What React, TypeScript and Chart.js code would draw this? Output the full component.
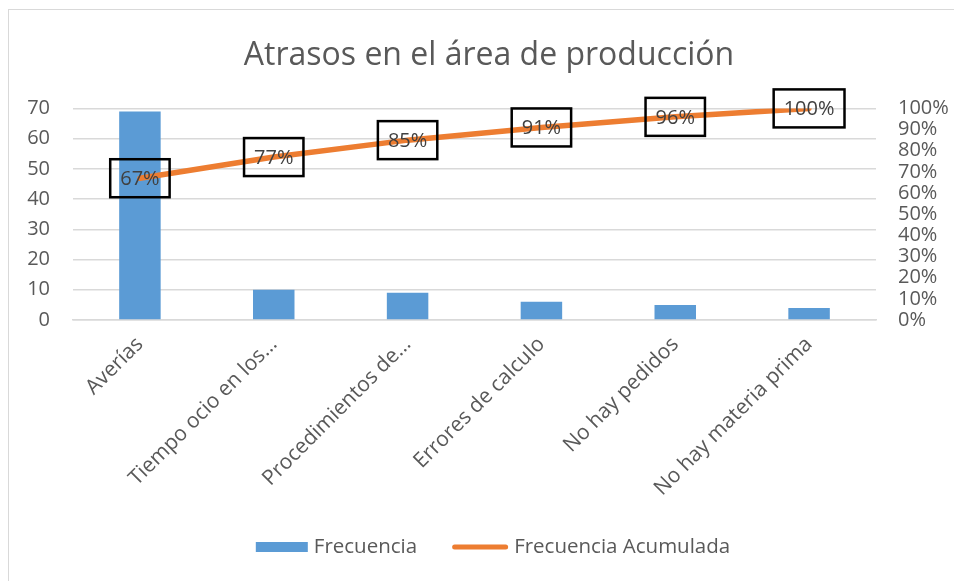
import React, { useEffect, useRef } from "react";
import { Chart, registerables } from "chart.js";

Chart.register(...registerables);

const FONT = "'Open Sans', sans-serif";
const TEXT = "#595959";
const BAR_COLOR = "#5B9BD5";
const LINE_COLOR = "#ED7D31";

const categories = [
  "Averías",
  "Tiempo ocio en los…",
  "Procedimientos de…",
  "Errores de calculo",
  "No hay pedidos",
  "No hay materia prima",
];
const frecuencia = [69, 10, 9, 6, 5, 4];
const acumulada = [0.67, 0.77, 0.85, 0.91, 0.96, 1.0];
const leftTicks = [0, 10, 20, 30, 40, 50, 60, 70];
const seriesNames = ["Frecuencia", "Frecuencia Acumulada"];

const labelBoxes = {
  id: "labelBoxes",
  afterDatasetsDraw(chart: any) {
    const meta = chart.getDatasetMeta(1);
    const ctx = chart.ctx;
    ctx.save();
    ctx.font = `20px ${FONT}`;
    ctx.textAlign = "center";
    ctx.textBaseline = "middle";
    meta.data.forEach((pt: any, i: number) => {
      const txt = Math.round(acumulada[i] * 100) + "%";
      const w = ctx.measureText(txt).width + 20;
      const h = 38;
      ctx.fillStyle = "#404040";
      ctx.fillText(txt, pt.x, pt.y + 1);
      ctx.lineWidth = 2.5;
      ctx.strokeStyle = "#000000";
      ctx.strokeRect(pt.x - w / 2, pt.y - h / 2, w, h);
    });
    ctx.restore();
  },
};

const customLegend = {
  id: "customLegend",
  afterDraw(chart: any) {
    const ctx = chart.ctx;
    ctx.save();
    ctx.font = `20.5px ${FONT}`;
    ctx.textBaseline = "middle";
    ctx.textAlign = "left";
    const t1 = ctx.measureText(seriesNames[0]).width;
    const t2 = ctx.measureText(seriesNames[1]).width;
    const boxW = 52;
    const lineW = 56;
    const gap = 6;
    const itemGap = 35;
    const total = boxW + gap + t1 + itemGap + lineW + gap + t2;
    const cx = (chart.width + 24) / 2 + 4;
    const y = 547;
    let x = cx - total / 2;
    ctx.fillStyle = BAR_COLOR;
    ctx.fillRect(x, y - 5, boxW, 10);
    x += boxW + gap;
    ctx.fillStyle = TEXT;
    ctx.fillText(seriesNames[0], x, y);
    x += t1 + itemGap;
    ctx.strokeStyle = LINE_COLOR;
    ctx.lineWidth = 5;
    ctx.lineCap = "round";
    ctx.beginPath();
    ctx.moveTo(x + 2.5, y);
    ctx.lineTo(x + lineW - 2.5, y);
    ctx.stroke();
    x += lineW + gap;
    ctx.fillStyle = TEXT;
    ctx.fillText(seriesNames[1], x, y);
    ctx.restore();
  },
};

export default function App() {
  const ref = useRef<HTMLCanvasElement | null>(null);
  useEffect(() => {
    if (!ref.current) return;
    const chart = new Chart(ref.current, {
      type: "bar",
      data: {
        labels: categories,
        datasets: [
          {
            type: "bar",
            label: seriesNames[0],
            data: frecuencia,
            backgroundColor: BAR_COLOR,
            categoryPercentage: 1,
            barPercentage: 0.31,
            yAxisID: "y",
            order: 1,
          },
          {
            type: "line",
            label: seriesNames[1],
            data: acumulada,
            borderColor: LINE_COLOR,
            backgroundColor: LINE_COLOR,
            borderWidth: 5.5,
            pointRadius: 0,
            borderCapStyle: "round",
            tension: 0,
            yAxisID: "y1",
            order: 0,
          },
        ],
      } as any,
      options: {
        animation: false,
        responsive: false,
        maintainAspectRatio: false,
        layout: { padding: { left: 24, right: 0, top: 0, bottom: 56 } },
        plugins: {
          tooltip: { enabled: false },
          legend: { display: false },
          title: {
            display: true,
            text: "Atrasos en el área de producción",
            color: TEXT,
            font: { family: FONT, size: 32, weight: "normal" },
            padding: { top: 37, bottom: 33 },
          },
        },
        scales: {
          x: {
            offset: true,
            grid: { display: false, drawTicks: false },
            border: { color: "#d9d9d9", width: 1.5 },
            ticks: {
              color: TEXT,
              font: { family: FONT, size: 21 },
              minRotation: 45,
              maxRotation: 45,
              autoSkip: false,
              padding: 12,
            },
            afterFit: (s: any) => {
              s.height = 205;
              s.paddingLeft = 0;
              s.paddingRight = 0;
            },
          },
          y: {
            position: "left",
            min: 0,
            max: 70,
            afterBuildTicks: (s: any) => {
              s.ticks = leftTicks.map((v) => ({ value: v }));
            },
            grid: { color: "#d9d9d9", lineWidth: 1.5, drawTicks: false },
            border: { display: false },
            ticks: {
              color: TEXT,
              font: { family: FONT, size: 20 },
              padding: 23,
              autoSkip: false,
            },
            afterFit: (s: any) => {
              s.width = 49;
            },
          },
          y1: {
            position: "right",
            min: 0,
            max: 1,
            grid: { display: false, drawTicks: false },
            border: { display: false },
            ticks: {
              stepSize: 0.1,
              autoSkip: false,
              color: TEXT,
              font: { family: FONT, size: 20 },
              padding: 22,
              callback: (v: any) => Math.round(Number(v) * 100) + "%",
            },
            afterFit: (s: any) => {
              s.width = 78;
            },
          },
        },
      } as any,
      plugins: [labelBoxes, customLegend],
    });
    return () => chart.destroy();
  }, []);

  return (
    <div style={{ position: "fixed", left: 0, top: 0, width: 954, height: 581, background: "#fff", overflow: "hidden" }}>
      <div
        style={{
          position: "absolute",
          left: 8,
          top: 9,
          width: 1000,
          height: 700,
          borderLeft: "1.5px solid #d9d9d9",
          borderTop: "1.5px solid #d9d9d9",
        }}
      />
      <canvas ref={ref} width={954} height={581} style={{ position: "absolute", left: 0, top: 0 }} />
    </div>
  );
}
